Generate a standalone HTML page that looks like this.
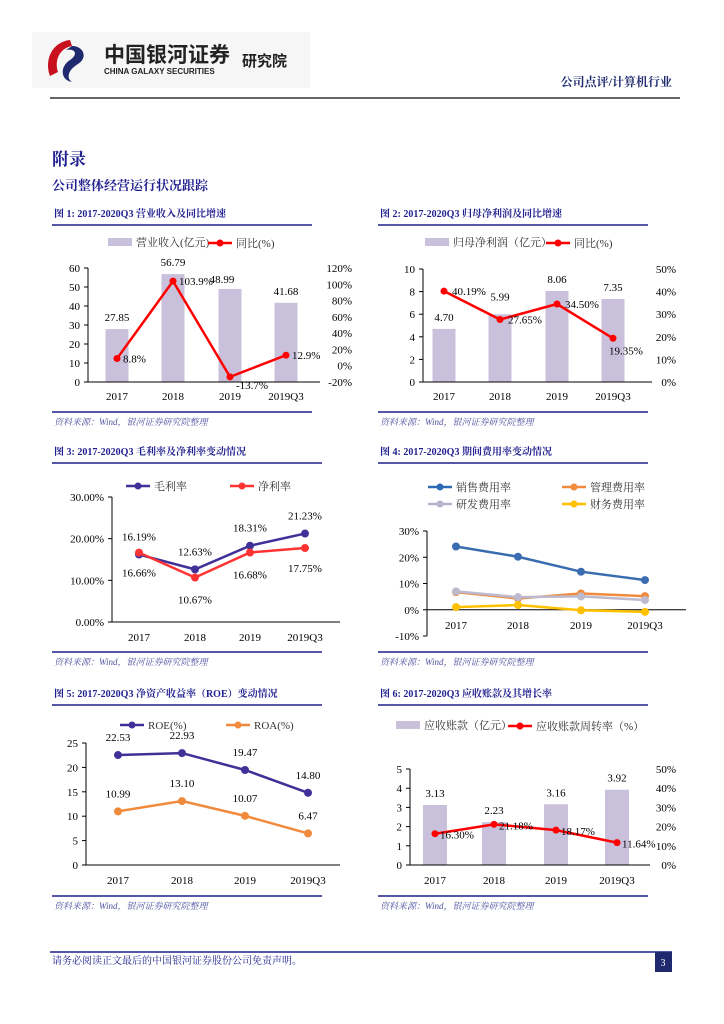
<!DOCTYPE html>
<html><head><meta charset="utf-8"><style>
body{margin:0;width:724px;height:1024px;background:#fff;font-family:"Liberation Serif","Noto Serif CJK SC",serif;overflow:hidden}
svg{position:absolute;left:0;top:0}
</style></head><body>
<svg id="s" width="724" height="1024" xmlns="http://www.w3.org/2000/svg">
<g>
<rect x="32" y="32" width="278" height="56" fill="#f6f6f6"/>
<path d="M70 40 C52 42 44 60 50 76 L58 72 C54 60 60 48 72 46 Z" fill="#c8101e"/>
<path d="M72 46 C84 46 88 58 78 64 C68 70 66 78 72 82 C60 80 60 66 70 60 C78 55 76 48 66 50 Z" fill="#1f2a6e"/>
<text x="104" y="62" font-size="21" font-weight="bold" fill="#222" font-family="Noto Sans CJK SC,sans-serif">中国银河证券</text>
<text x="104" y="74" font-size="8" font-weight="bold" fill="#222" font-family="Liberation Sans,sans-serif">CHINA GALAXY SECURITIES</text>
<text x="242" y="66" font-size="15" font-weight="bold" fill="#222" font-family="Noto Sans CJK SC,sans-serif">研究院</text>
<text x="672" y="86" font-size="12" font-weight="bold" fill="#1f2a6e" text-anchor="end">公司点评/计算机行业</text>
<line x1="50" y1="98" x2="680" y2="98" stroke="#333" stroke-width="1.5"/>
</g>
<text x="52" y="165" font-size="17" font-weight="bold" fill="#1f1f8f">附录</text>
<text x="52" y="190" font-size="13" font-weight="bold" fill="#1f1f8f">公司整体经营运行状况跟踪</text>
<g id="charts"></g>
<line x1="50" y1="952" x2="672" y2="952" stroke="#1f1f8f" stroke-width="1.5"/>
<text x="52" y="964" font-size="10" fill="#1f1f8f">请务必阅读正文最后的中国银河证券股份公司免责声明。</text>
<rect x="655" y="952" width="17" height="20" fill="#1f2a6e"/>
<text x="663" y="966" font-size="10" fill="#fff" text-anchor="middle">3</text>
</svg>
<script>
const cats=["2017","2018","2019","2019Q3"];
const revenue=[27.85,56.79,48.99,41.68];
const revenueYoy=[8.8,103.9,-13.7,12.9];
const profit=[4.70,5.99,8.06,7.35];
const profitYoy=[40.19,27.65,34.50,19.35];
const grossMargin=[16.19,12.63,18.31,21.23];
const netMargin=[16.66,10.67,16.68,17.75];
const sellRate=[24.1,20.2,14.5,11.3];
const mgmtRate=[6.7,4.3,6.2,5.2];
const rdRate=[7.0,4.8,5.1,3.7];
const finRate=[1.0,1.8,-0.2,-0.8];
const roe=[22.53,22.93,19.47,14.80];
const roa=[10.99,13.10,10.07,6.47];
const receivable=[3.13,2.23,3.16,3.92];
const turnover=[16.30,21.18,18.17,11.64];
const leftTicks1=[0,10,20,30,40,50,60];const rightTicks1=[-20,0,20,40,60,80,100,120];
const leftTicks2=[0,2,4,6,8,10];const rightTicks2=[0,10,20,30,40,50];
const ticks3=[0,10,20,30];const ticks4=[-10,0,10,20,30];
const ticks5=[0,5,10,15,20,25];const leftTicks6=[0,1,2,3,4,5];const rightTicks6=[0,10,20,30,40,50];

const NS="http://www.w3.org/2000/svg";const root=document.getElementById('charts');
function el(tag,attrs,parent,txt){const e=document.createElementNS(NS,tag);for(const k in attrs)e.setAttribute(k,attrs[k]);if(txt!==undefined)e.textContent=txt;(parent||root).appendChild(e);return e;}
function lin(d0,d1,p0,p1){return v=>p0+(v-d0)/(d1-d0)*(p1-p0);}
function frame(x0,x1,yTitle,yBot,title,name){
 const g=el('g',{});
 el('text',{x:x0+2,y:yTitle,'font-size':10,'font-weight':'bold',fill:'#1f1f8f'},g,title);
 el('line',{x1:x0,y1:yTitle+8,x2:x1,y2:yTitle+8,stroke:'#1f1f8f','stroke-width':1.5},g);
 el('line',{x1:x0,y1:yBot,x2:x1,y2:yBot,stroke:'#1f1f8f','stroke-width':1.5},g);
 el('text',{x:x0+2,y:yBot+13,'font-size':9,'font-style':'italic',fill:'#5050a0'},g,'资料来源：Wind，银河证券研究院整理');
 return g;}
function axisL(g,x,sc,ticks,fmt){el('line',{x1:x,y1:sc(ticks[0]),x2:x,y2:sc(ticks[ticks.length-1]),stroke:'#000'},g);
 ticks.forEach(t=>{el('line',{x1:x-4,y1:sc(t),x2:x,y2:sc(t),stroke:'#000'},g);el('text',{x:x-8,y:sc(t)+4,'font-size':11,'text-anchor':'end'},g,fmt(t));});}
function axisR(g,x,sc,ticks,fmt){ticks.forEach(t=>{el('text',{x:x,y:sc(t)+4,'font-size':11,'text-anchor':'end'},g,fmt(t));});}
function xaxis(g,x0,x1,y,xs,ly){el('line',{x1:x0,y1:y,x2:x1,y2:y,stroke:'#000'},g);cats.forEach((c,i)=>el('text',{x:xs[i],y:ly,'font-size':11,'text-anchor':'middle'},g,c));}
function bars(g,xs,sc,vals,w,nm){vals.forEach((v,i)=>{const r=el('rect',{x:xs[i]-w/2,y:sc(v),width:w,height:sc(0)-sc(v),fill:'#c9c0dc'},g);});}
function line(g,xs,sc,vals,col,r,nm){el('polyline',{points:vals.map((v,i)=>xs[i]+','+sc(v)).join(' '),fill:'none',stroke:col,'stroke-width':2.5},g);
 vals.forEach((v,i)=>{const c=el('circle',{cx:xs[i],cy:sc(v),r:r,fill:col},g);});}
function lab(g,x,y,t,a){el('text',{x:x,y:y,'font-size':11,'text-anchor':a||'middle'},g,t);}
function legBar(g,x,y,t){el('rect',{x:x,y:y-5,width:24,height:8,fill:'#c9c0dc'},g);el('text',{x:x+28,y:y+3,'font-size':11,fill:'#333'},g,t);}
function legLine(g,x,y,t,col){el('line',{x1:x,y1:y,x2:x+24,y2:y,stroke:col,'stroke-width':2.5},g);el('circle',{cx:x+12,cy:y,r:3.5,fill:col},g);el('text',{x:x+28,y:y+4,'font-size':11,fill:'#333'},g,t);}
const pct=t=>t+'%';

{const g=frame(52,312,217,412,'图 1:  2017-2020Q3 营业收入及同比增速','chart-revenue');
 const xs=[117,173,230,286];const yl=lin(0,60,382,268),yr=lin(-20,120,382,268);
 legBar(g,108,243,'营业收入(亿元)');legLine(g,208,243,'同比(%)','#ff0000');
 axisL(g,88,yl,leftTicks1,t=>t);axisR(g,352,yr,rightTicks1,pct);
 bars(g,xs,yl,revenue,23,'revenue');xaxis(g,88,320,382,xs,400);
 line(g,xs,yr,revenueYoy,'#ff0000',3.5,'revenue-yoy');
 revenue.forEach((v,i)=>lab(g,xs[i]+(i==2?-8:0),yl(v)-(i==2?6:8),v.toFixed(2)));
 revenueYoy.forEach((v,i)=>lab(g,xs[i]+6,yr(v)+(i==2?12:4),v+'%','start'));}
{const g=frame(378,648,217,412,'图 2:  2017-2020Q3 归母净利润及同比增速','chart-profit');
 const xs=[444,500,557,613];const yl=lin(0,10,382,269),yr=lin(0,50,382,269);
 legBar(g,425,243,'归母净利润（亿元）');legLine(g,546,243,'同比(%)','#ff0000');
 axisL(g,423,yl,leftTicks2,t=>t);axisR(g,676,yr,rightTicks2,pct);
 bars(g,xs,yl,profit,23,'profit');xaxis(g,423,652,382,xs,400);
 line(g,xs,yr,profitYoy,'#ff0000',3.5,'profit-yoy');
 profit.forEach((v,i)=>lab(g,xs[i],yl(v)-(i==1?14:8),v.toFixed(2)));
 profitYoy.forEach((v,i)=>lab(g,xs[i]+(i==3?-4:8),yr(v)+(i==3?16:4),v.toFixed(2)+'%','start'));}
{const g=frame(52,322,455,652,'图 3:  2017-2020Q3 毛利率及净利率变动情况','chart-margins');
 const xs=[139,195,250,305];const y=lin(0,30,622,497);
 legLine(g,126,486,'毛利率','#3f3198');legLine(g,230,486,'净利率','#ff3333');
 axisL(g,112,y,ticks3,t=>t.toFixed(2)+'%');xaxis(g,112,340,622,xs,641);
 line(g,xs,y,grossMargin,'#3f3198',4,'gross-margin');line(g,xs,y,netMargin,'#ff3333',4,'net-margin');
 const nd=[24,26,26,24];
 grossMargin.forEach((v,i)=>lab(g,xs[i],y(v)-14,v.toFixed(2)+'%'));
 netMargin.forEach((v,i)=>lab(g,xs[i],y(v)+nd[i],v.toFixed(2)+'%'));}
{const g=frame(378,648,455,652,'图 4:  2017-2020Q3 期间费用率变动情况','chart-expense-rates');
 const xs=[456,518,581,645];const y=lin(-10,30,636,531);
 legLine(g,428,487,'销售费用率','#2e6bb5');legLine(g,562,487,'管理费用率','#f08a3c');
 legLine(g,428,504,'研发费用率','#b8b4cc');legLine(g,562,504,'财务费用率','#ffc000');
 axisL(g,427,y,ticks4,pct);
 el('line',{x1:427,y1:y(0),x2:686,y2:y(0),stroke:'#000'},g);cats.forEach((c,i)=>lab(g,xs[i],629,c));
 line(g,xs,y,sellRate,'#3a6cb0',4,'sales-rate');line(g,xs,y,mgmtRate,'#f08a3c',4,'admin-rate');
 line(g,xs,y,rdRate,'#bdbad0',4,'rd-rate');line(g,xs,y,finRate,'#ffc000',4,'finance-rate');}
{const g=frame(52,322,697,896,'图 5:  2017-2020Q3 净资产收益率（ROE）变动情况','chart-roe-roa');
 const xs=[118,182,245,308];const y=lin(0,25,865,743);
 legLine(g,120,725,'ROE(%)','#3f3198');legLine(g,226,725,'ROA(%)','#f08a3c');
 axisL(g,86,y,ticks5,t=>t);xaxis(g,86,340,865,xs,884);
 line(g,xs,y,roe,'#3f3198',4,'roe');line(g,xs,y,roa,'#f08a3c',4,'roa');
 roe.forEach((v,i)=>lab(g,xs[i],y(v)-14,v.toFixed(2)));roa.forEach((v,i)=>lab(g,xs[i],y(v)-14,v.toFixed(2)));}
{const g=frame(378,648,697,896,'图 6:  2017-2020Q3 应收账款及其增长率','chart-receivables');
 const xs=[435,494,556,617];const y=lin(0,5,865,769),yr=lin(0,50,865,769);
 legBar(g,396,726,'应收账款（亿元）');legLine(g,508,726,'应收账款周转率（%）','#ff0000');
 axisL(g,410,y,leftTicks6,t=>t);axisR(g,676,yr,rightTicks6,pct);
 bars(g,xs,y,receivable,24,'receivable');xaxis(g,410,650,865,xs,884);
 line(g,xs,yr,turnover,'#ff0000',3.5,'turnover');
 receivable.forEach((v,i)=>lab(g,xs[i],y(v)-8,v.toFixed(2)));
 turnover.forEach((v,i)=>lab(g,xs[i]+5,yr(v)+5,v.toFixed(2)+'%','start'));}
</script>
</body></html>
